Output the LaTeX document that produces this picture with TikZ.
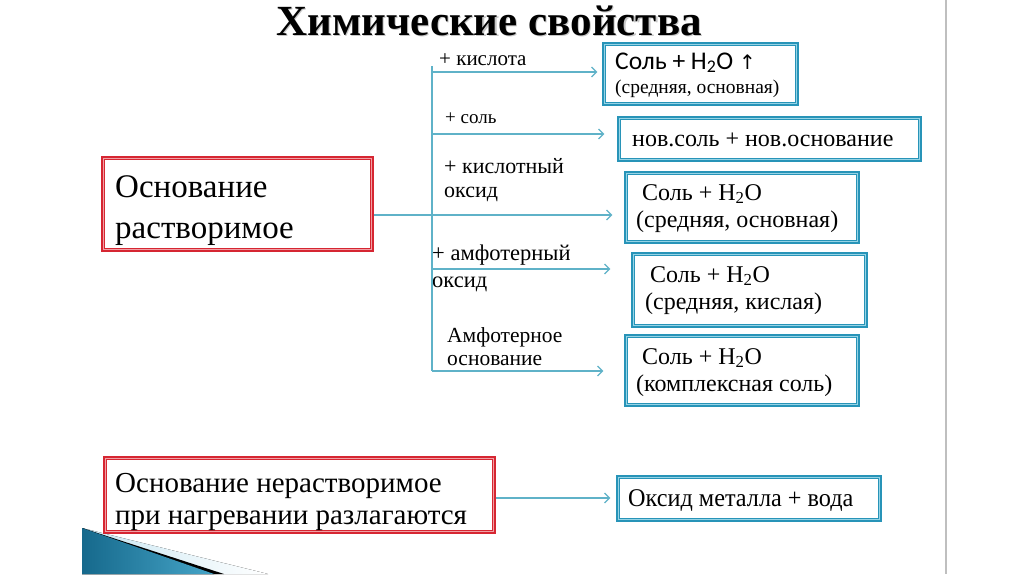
\documentclass[tikz,border=0pt]{standalone}
\usepackage{fontspec}
\setmainfont{Liberation Serif}
\newfontfamily\calib{Carlito}
\newfontfamily\djv{DejaVu Sans}
\newfontfamily\condf[FakeStretch=0.95]{Liberation Serif}
\usetikzlibrary{arrows.meta,calc}
\definecolor{tealD}{RGB}{40,148,184}
\definecolor{tealL}{RGB}{150,212,230}
\definecolor{connC}{RGB}{95,178,200}
\definecolor{redD}{RGB}{214,38,50}
\definecolor{redL}{RGB}{240,160,165}
\definecolor{triD}{RGB}{22,105,140}
\definecolor{triM}{RGB}{70,165,200}
\definecolor{triL}{RGB}{200,230,242}
\newcommand\inframe[2]{\draw[#2, line width=1.2pt] ([shift={(2.4pt,-2.4pt)}]#1.north west) rectangle ([shift={(-2.4pt,2.4pt)}]#1.south east);}
\begin{document}
\begin{tikzpicture}[x=1pt,y=-1pt,
  tbox/.style={draw=tealD, line width=3.2pt, fill=white, inner sep=0pt},
  rbox/.style={draw=redD, line width=3.2pt, fill=white, inner sep=0pt},
  btxt/.style={align=left, inner sep=0pt, anchor=base west},
  conn/.style={draw=connC, line width=1.2pt},
  arr/.style={conn, -{Straight Barb[length=5pt,width=10pt]}},
  lbl/.style={align=left, inner sep=0pt, anchor=base west}]
\useasboundingbox (0,0) rectangle (1024,574);
\fill[white] (0,0) rectangle (1024,574);
% right gray rule
\coordinate (gtop) at (946,0);
\coordinate (gbot) at (946,574);
\draw[black!25, line width=1.6pt] (gtop) -- (gbot);
% decoration triangle
\fill[left color=triL, right color=white] (82,528) -- (268,574) -- (82,574) -- cycle;
\fill[black] (82,528) -- (224,574) -- (82,574) -- cycle;
\fill[left color=triD, right color=triM] (82,528) -- (214,574) -- (82,574) -- cycle;
% title
\node[font=\bfseries\fontsize{43}{43}\selectfont, text=black!22] (tshadow) at (490.2,22.2) {Химические свойства};
\node[font=\bfseries\fontsize{43}{43}\selectfont] (title) at (489,21) {Химические свойства};
% left boxes
\node[rbox, minimum width=269pt, minimum height=92pt] (osn) at (237.5,204) {};
\inframe{osn}{redL}
\node[btxt, font=\fontsize{33}{41}\selectfont] (osnT) at (115,238) {Основание\\растворимое};
\node[rbox, minimum width=389pt, minimum height=74pt] (osn2) at (299.5,495) {};
\inframe{osn2}{redL}
\node[btxt, font=\fontsize{29}{32}\selectfont] (osn2T) at (115,524) {Основание нерастворимое\\при нагревании разлагаются};
% right boxes
\node[tbox, minimum width=193pt, minimum height=60pt] (A) at (700.5,74) {};
\inframe{A}{tealL}
\node[btxt, font=\fontsize{19.5}{24}\selectfont] (AT) at (615,93) {{\calib\fontsize{25.5}{24}\selectfont Соль + H\textsubscript{2}O {\djv\fontsize{20}{24}\selectfont ↑}}\\(средняя, основная)};
\node[tbox, minimum width=301pt, minimum height=42pt] (B) at (769.5,139) {};
\inframe{B}{tealL}
\node[btxt, font=\fontsize{24}{27}\selectfont] (BT) at (632,146) {нов.соль + нов.основание};
\node[tbox, minimum width=232pt, minimum height=69pt] (C) at (742,207.5) {};
\inframe{C}{tealL}
\node[btxt, font=\fontsize{24}{27}\selectfont] (CT) at (636,227) {\hspace{6pt}Соль + H\textsubscript{2}O\\(средняя, основная)};
\node[tbox, minimum width=233pt, minimum height=72pt] (D) at (749.5,290) {};
\inframe{D}{tealL}
\node[btxt, font=\fontsize{24}{27}\selectfont] (DT) at (645,309) {\hspace{5pt}Соль + H\textsubscript{2}O\\(средняя, кислая)};
\node[tbox, minimum width=232pt, minimum height=69pt] (E) at (742,370.5) {};
\inframe{E}{tealL}
\node[btxt, font=\fontsize{24}{27}\selectfont] (ET) at (636,391) {\hspace{6pt}Соль + H\textsubscript{2}O\\(комплексная соль)};
\node[tbox, minimum width=262pt, minimum height=43pt] (ox) at (749,498.5) {};
\inframe{ox}{tealL}
\node[btxt, font=\condf\fontsize{25.5}{27}\selectfont] (oxT) at (628,506) {Оксид металла + вода};
% labels
\node[lbl, font=\fontsize{21}{24}\selectfont] (l1) at (439,65) {+ кислота};
\node[lbl, font=\fontsize{19}{24}\selectfont] (l2) at (445,123) {+ соль};
\node[lbl, font=\fontsize{22}{24}\selectfont] (l3) at (444,197) {+ кислотный\\оксид};
\node[lbl, font=\fontsize{22.5}{27}\selectfont] (l4) at (432,287) {+ амфотерный\\оксид};
\node[lbl, font=\fontsize{21.5}{23}\selectfont] (l5) at (447,365) {Амфотерное\\основание};
% connectors
\coordinate (ttop) at (432,66);
\coordinate (b1) at (432,72);
\coordinate (b2) at (432,134);
\coordinate (b4) at (432,269);
\coordinate (b5) at (432,371);
\draw[conn] (ttop) -- (b5);
\draw[arr, shorten >=5pt] (b1) -- (b1 -| A.west);
\draw[arr, shorten >=13pt] (b2) -- (b2 -| B.west);
\draw[arr, shorten >=12pt] ([yshift=-11pt]osn.east) -- ([yshift=-11pt]osn.east -| C.west);
\draw[arr, shorten >=21pt] (b4) -- (b4 -| D.west);
\draw[arr, shorten >=21pt] (b5) -- (b5 -| E.west);
\draw[arr, shorten >=6pt] ([yshift=-3pt]osn2.east) -- ([yshift=-3pt]osn2.east -| ox.west);
\end{tikzpicture}
\end{document}
